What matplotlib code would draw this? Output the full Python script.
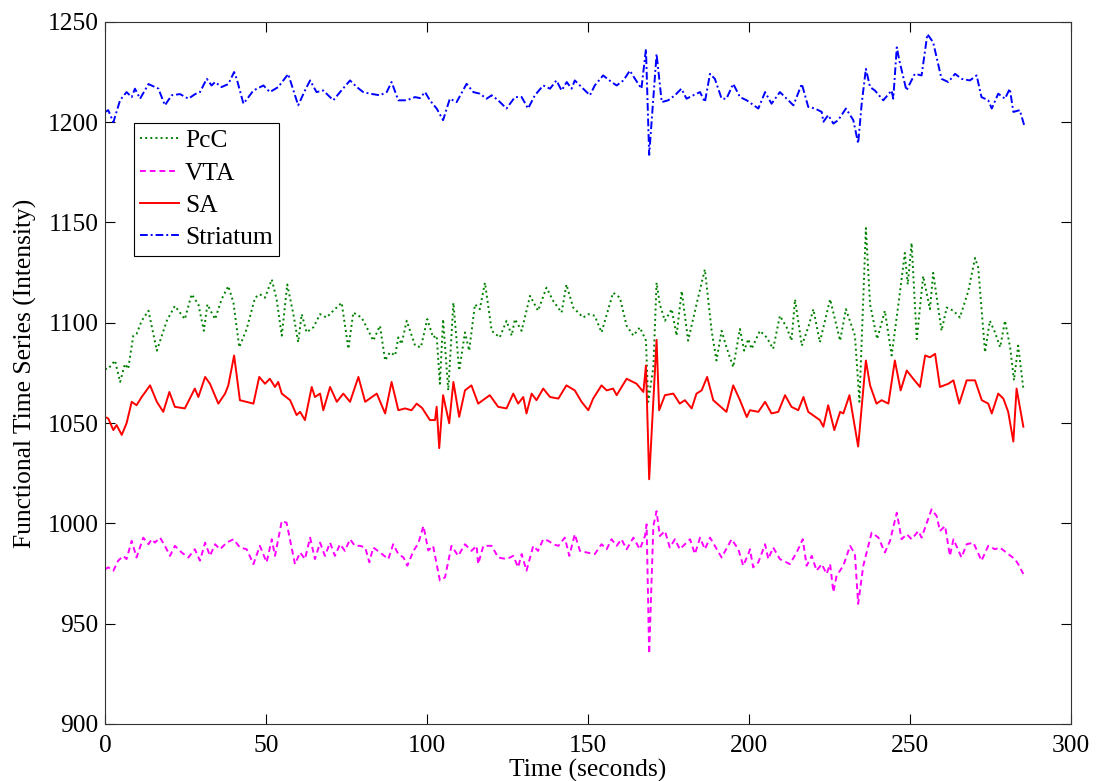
import numpy as np
import matplotlib
matplotlib.use('Agg')
import matplotlib.pyplot as plt

plt.rcParams['font.family'] = ['Liberation Serif', 'DejaVu Serif']
plt.rcParams['mathtext.fontset'] = 'stix'

# 各序列的时间点（秒）与强度值，按图中的峰谷读取
PCC_T = [0, 1, 3.1, 4.7, 6.2, 7.2, 8.8, 9.8, 11.4, 13.5, 16.1, 19.2, 21.7, 24.8, 26.9, 29, 30.7,
         31.8, 33.1, 34.2, 36.2, 38.3, 39.9, 41.7, 44, 46.6, 48.1, 49.7, 51.8, 53.3, 54.9, 56.6,
         58.5, 60, 61.1, 62.6, 64.7, 66.8, 68.8, 70.9, 73.5, 75.6, 77.1, 79.7, 81.3, 83.3, 85.4,
         87, 88.5, 90.1, 91.1, 92.1, 93.7, 96.3, 98.1, 100.1, 101.9, 103, 104, 105, 106.6, 108.2,
         110, 111.8, 113.1, 114.9, 116.4, 118, 120.1, 122.6, 124.7, 126.3, 127.3, 129.4, 132,
         134.5, 137.1, 139.2, 141.8, 143.3, 145.4, 148.5, 150.1, 152.1, 154.2, 157.8, 159.9, 162,
         164.1, 166.1, 168, 168.7, 170.3, 171.3, 172.3, 173.9, 176, 177.5, 179.1, 181.1, 183.7,
         186.3, 188.4, 189.9, 191.5, 193, 195.1, 197.2, 198.5, 199.8, 200.8, 203.4, 205.5, 207.5,
         209.6, 211.7, 213.2, 214.3, 216.4, 218.4, 220, 222, 225.2, 228.3, 230.1, 232.9, 234.3,
         236.3, 237.6, 239.8, 242.2, 244.3, 246.4, 248.4, 249.3, 250.5, 252.1, 254.1, 256.2,
         257.2, 259.8, 261.4, 263.5, 265.5, 268.1, 270.2, 271.2, 273.3, 274.8, 276.4, 278, 279.5,
         281.1, 282.3, 283.6, 285.2]
PCC_V = [1077, 1077, 1081.2, 1070.5, 1079.5, 1077, 1093.6, 1094.4, 1101, 1106, 1086.1, 1101,
         1108.4, 1101.8, 1114.2, 1109.2, 1096, 1109.2, 1105.1, 1101.8, 1111.7, 1118.3, 1110,
         1087.8, 1096.9, 1112.5, 1114.2, 1112.5, 1121.6, 1111.7, 1093.6, 1119.1, 1104.3, 1090.3,
         1104.3, 1095.2, 1097.7, 1104.3, 1102.6, 1106, 1110, 1087, 1105.1, 1102.6, 1097.7, 1091.1,
         1098.5, 1081.2, 1085.3, 1083.7, 1092.7, 1089.4, 1101, 1088.6, 1087.8, 1101.8, 1092.7,
         1093.6, 1069.6, 1101.8, 1066.3, 1110, 1076.2, 1095.2, 1086.1, 1109.2, 1106.8, 1120, 1096,
         1092.7, 1101, 1093.6, 1101.8, 1096, 1113.4, 1106, 1117.5, 1110.9, 1105.1, 1119.1, 1107.6,
         1102.6, 1104.3, 1103.5, 1095.2, 1115, 1112.5, 1098.5, 1093.6, 1097.7, 1091.1, 1060.6,
         1077.9, 1120, 1109.2, 1101, 1106.8, 1093.6, 1115.8, 1091.1, 1109.2, 1126.6, 1096, 1081.2,
         1096, 1087.8, 1077.9, 1096.9, 1086.1, 1091.9, 1087, 1096, 1092.7, 1087, 1103.5, 1097.7,
         1091.1, 1111.7, 1088.6, 1097.7, 1106.8, 1090.3, 1111.7, 1091.1, 1106.8, 1093.6, 1060.6,
         1147.2, 1109.2, 1091.9, 1106, 1083.7, 1109.2, 1134.8, 1119.1, 1139.8, 1091.9, 1123.3,
         1106.8, 1124.9, 1096, 1107.6, 1106, 1102.6, 1115.8, 1132.3, 1127.4, 1085.3, 1101, 1095.2,
         1087.8, 1101, 1087.8, 1071.3, 1088.6, 1067.2]

VTA_T = [0, 1, 2.6, 4.1, 5.7, 6.7, 8.3, 9.8, 11.9, 13.5, 14.5, 15.5, 17.1, 18.6, 20.2, 21.7, 23.8,
         25.9, 27.9, 29.5, 31.1, 32.6, 34.2, 35.7, 37.8, 39.9, 41.9, 44, 46.1, 48.1, 50.2, 51.8,
         52.8, 54.9, 56.4, 59, 60.6, 62.1, 63.7, 65.2, 66.8, 68.3, 69.9, 71.4, 73, 74.5, 76.1,
         77.6, 79.2, 80.8, 82.1, 83.3, 85.4, 88, 89.5, 91.1, 92.7, 93.9, 95.8, 97.3, 98.9, 100.4,
         101.9, 104, 105.6, 107.6, 109.7, 111.8, 113.8, 115.4, 115.9, 117.5, 120.1, 122.1, 124.7,
         126.8, 128.3, 129.4, 130.9, 133, 134.5, 136.1, 137.7, 139.2, 140.8, 142.8, 144.2, 145.9,
         147.5, 149.6, 152.1, 154.2, 155.8, 157.3, 158.9, 160.4, 162, 164.1, 166.1, 167.7, 168.2,
         169, 170.3, 171.3, 172.3, 173.9, 175.4, 177, 178.5, 180.1, 181.7, 183.2, 184.8, 186.3,
         187.9, 189.4, 191.5, 194.6, 196.7, 198.2, 199.8, 200.3, 201.3, 202.9, 205, 206, 207.5,
         209.6, 212.7, 214.8, 216.7, 217.9, 219.5, 221, 222.6, 224.1, 225.2, 226.2, 227.2, 229.3,
         231.4, 232.9, 233.9, 235.5, 238.1, 240.2, 242.2, 243.8, 245.9, 247.4, 249, 250.5, 252.6,
         253.6, 256.7, 258.3, 259.3, 260.9, 262.4, 263.5, 266, 267.6, 269.7, 272.2, 274.3, 276.4,
         277.9, 280.5, 282.6, 283.6, 285.2]
VTA_V = [977, 978.1, 976.4, 981.4, 983.8, 982.2, 991.3, 983, 992.9, 989.6, 992.1, 990.4, 992.9,
         988.8, 983.8, 988.8, 985.5, 983, 987.1, 981.4, 990.4, 983.8, 989.6, 987.1, 990.4, 992.1,
         988, 987.1, 979.7, 988.8, 980.6, 992.1, 983.8, 1001.2, 1000.3, 979.7, 985.5, 982.2, 992.9,
         982.2, 990.4, 983.8, 990.4, 983.8, 989.6, 986.3, 992.1, 988.8, 988.8, 988, 980.6, 988,
         985.5, 982.2, 989.6, 984.7, 983, 978.9, 986.3, 990, 998.7, 986.5, 988.8, 971.5, 973.1,
         988.8, 983.8, 989.6, 986.3, 988.8, 979.7, 988.8, 988.8, 983, 982.2, 983.8, 978.1, 984.7,
         976.4, 988.8, 986.3, 992.1, 991.3, 989.6, 988.8, 992.9, 983.8, 994.6, 986.3, 985.5, 984.7,
         989.6, 987.1, 992.1, 988.8, 992.1, 987.1, 992.9, 987.1, 993.7, 999.5, 935, 998.7, 1006.1,
         993.7, 996.2, 988, 992.1, 987.1, 989.6, 992.1, 984.7, 992.9, 987.1, 992.9, 988.8, 983,
         992.1, 987.1, 978.9, 984.7, 987.1, 978.1, 980.6, 989.6, 982.2, 988, 982.2, 979.7, 985.5,
         992.1, 978.9, 983.8, 976.4, 979.7, 974.8, 979.7, 965.7, 973.9, 978.9, 988.8, 984.7, 959.9,
         978.9, 995.4, 992.9, 985.5, 991.3, 1005.3, 992.1, 994.6, 992.1, 996.2, 992.9, 1007,
         1003.6, 996.2, 998.7, 983.8, 992.1, 983, 989.6, 990.4, 981.4, 988.8, 987.1, 988, 984.7,
         982.2, 979.7, 974.8]

SA_T = [0, 1, 2.6, 3.6, 5.2, 6.7, 8.3, 9.8, 11.4, 14, 16.1, 18.1, 20, 21.7, 24.8, 27.9, 29, 31.1,
        32.6, 35.2, 37.3, 38.3, 40.1, 41.9, 46.1, 47.9, 49.7, 51.2, 52.8, 53.8, 54.9, 57.5, 59.5,
        60.6, 62.1, 64.2, 65.2, 66.8, 67.8, 69.9, 72, 74, 76.1, 78.7, 80.8, 84.4, 87, 89, 91.1,
        93.2, 95.2, 96.8, 98.5, 100.9, 102.5, 103, 103.8, 105, 106.9, 108.2, 110, 111.8, 113.8,
        115.9, 119.5, 122.1, 124.7, 126.8, 128.3, 129.9, 130.9, 132.5, 134, 136.1, 138.2, 140.8,
        143.3, 145.9, 148, 150.1, 151.6, 154.2, 155.8, 157.8, 158.9, 162, 165.1, 167.2, 168, 169,
        171.3, 172.1, 173.9, 176.5, 178.5, 180.1, 182.2, 183.7, 185.3, 187, 188.9, 193, 195.1,
        197.2, 199.3, 200.3, 202.9, 205, 207, 209.1, 211.2, 213.2, 215.3, 216.9, 218.4, 222,
        223.1, 224.6, 226.5, 228.3, 229.3, 231.2, 233.9, 236.3, 237.6, 239.6, 241.2, 243.3,
        245.3, 247.1, 249, 251, 253.1, 254.7, 256.2, 257.8, 259.3, 261.9, 263.5, 265.3, 267.6,
        270.2, 272.3, 274.3, 275.4, 277.4, 279, 280.5, 282.1, 283.1, 285.2]
SA_V = [1053, 1052.3, 1046.5, 1049, 1044.1, 1049.9, 1060.6, 1058.9, 1063, 1068.8, 1060.6, 1055.6,
        1065.5, 1058.1, 1057.3, 1067.2, 1063, 1073, 1069.6, 1059.7, 1064.7, 1068.8, 1083.7, 1061.4,
        1059.7, 1073, 1069.6, 1072.1, 1068, 1070.5, 1064.7, 1061.4, 1054, 1055.6, 1051.5, 1068,
        1063, 1064.7, 1056.4, 1068, 1060.6, 1064.7, 1060.6, 1073, 1060.6, 1064.7, 1054.8, 1070.5,
        1056.4, 1057.3, 1056.4, 1059.7, 1057.5, 1051.5, 1051.5, 1058.1, 1037.5, 1063.9, 1049.9,
        1070.5, 1053.1, 1066.3, 1068.8, 1059.7, 1063.9, 1058.1, 1057.3, 1064.7, 1059.7, 1063,
        1054.8, 1064.7, 1061.4, 1067.2, 1063, 1062.2, 1068.8, 1066.3, 1060.6, 1056.4, 1062.2,
        1068.8, 1066.3, 1067.2, 1063.9, 1072.1, 1069.6, 1065.5, 1078.7, 1022, 1091.5, 1056.4,
        1063.9, 1064.7, 1059.7, 1061.4, 1057.3, 1064.7, 1066.3, 1073, 1061.4, 1055.6, 1068.8,
        1061.4, 1053, 1056.4, 1055.6, 1060.6, 1054.8, 1055.6, 1063.9, 1058.1, 1056.4, 1063,
        1055.6, 1051.5, 1048.2, 1058.9, 1046.5, 1055.6, 1054.8, 1063.9, 1038.3, 1081.2, 1068.8,
        1059.7, 1061.4, 1059.7, 1081.2, 1066.3, 1076.2, 1072.1, 1068, 1083.7, 1082.8, 1084.5,
        1068, 1069.6, 1071.3, 1059.7, 1071.3, 1071.3, 1061.4, 1059.7, 1054.8, 1064.7, 1062.2,
        1055.6, 1040.8, 1067.2, 1048.2]

STRIATUM_T = [0, 1, 2.6, 4.7, 6.7, 8.3, 9.3, 10.9, 13.5, 16.6, 18.6, 20.7, 23.3, 25.9, 28, 29.5,
              31.6, 33.1, 34.2, 36.2, 38.3, 40.1, 40.9, 43, 46.1, 49.2, 51.2, 53.8, 56.9, 60, 62.1,
              63.7, 65.7, 67.8, 70.9, 73, 76.1, 78.2, 80.2, 82.3, 85.4, 87.5, 89, 91.1, 93.7, 96.3,
              97.8, 99.4, 100.9, 103, 105, 107.1, 109.2, 112.3, 114.4, 116.4, 118.5, 120.1, 122.1,
              124.7, 127.3, 129.4, 131.4, 133.5, 136.1, 138.2, 140.2, 141.8, 143.4, 144.9, 145.9,
              148, 150.6, 152.1, 154.7, 157.3, 158.9, 161, 163, 164.6, 166.6, 168, 169, 171.3,
              172.9, 174.9, 177, 179, 180.6, 182.7, 184.8, 186.3, 187.9, 189.4, 191.5, 193, 195.1,
              197.2, 199.3, 202.9, 205, 207, 209.6, 211.7, 213.8, 216.4, 218.4, 220.5, 222.6,
              223.1, 224.6, 226.2, 227.7, 230.1, 232.4, 233.9, 235, 236.3, 237.6, 239.1, 241.7,
              244.3, 244.8, 245.9, 246.7, 248.9, 251.5, 253.6, 255.4, 257.2, 259.8, 261.9, 264,
              266, 268.6, 270.7, 272.2, 274.3, 275.4, 277.4, 279.5, 281, 282.1, 284.1, 285.6]
STRIATUM_V = [1205, 1206, 1200, 1211, 1215, 1212.5, 1216.7, 1211.7, 1219, 1216.7, 1208.4, 1213.4,
              1214, 1211.7, 1214, 1215, 1221.6, 1218.3, 1220, 1217.5, 1219, 1225, 1221.6, 1209.2,
              1215.8, 1218.3, 1215, 1217.5, 1224, 1208.4, 1215.8, 1220.8, 1215, 1215.8, 1210.9,
              1215, 1220.8, 1217.5, 1215, 1214.2, 1213.4, 1215, 1220, 1210.9, 1210.9, 1212.5, 1212,
              1215, 1210.9, 1206.8, 1201, 1211.7, 1210, 1219.1, 1215, 1214.2, 1211.7, 1213.4,
              1210.9, 1206.8, 1212.5, 1212.5, 1206.8, 1213.4, 1218.3, 1216.7, 1220.8, 1215.8, 1220,
              1216.7, 1220.8, 1217.5, 1213.4, 1218.3, 1223.3, 1220, 1218.3, 1220.8, 1225.7, 1221.6,
              1216.7, 1236.5, 1183.7, 1234, 1210, 1210.9, 1213.4, 1216.7, 1211.7, 1213.4, 1215,
              1210, 1224.1, 1221.6, 1211.7, 1211.7, 1219.1, 1212.5, 1210.9, 1206.8, 1215, 1209.2,
              1215, 1211.7, 1208.4, 1219.1, 1207.6, 1206.8, 1205.1, 1200.2, 1203.5, 1199.3, 1201,
              1206.8, 1201, 1189.4, 1209.2, 1226.6, 1217.5, 1215.8, 1210.9, 1215.8, 1211.7, 1237.3,
              1230.7, 1215.8, 1224.1, 1223.3, 1243.9, 1239.8, 1221.6, 1220, 1224.1, 1221.6, 1220.8,
              1223.3, 1212.5, 1210.9, 1206.8, 1214.2, 1211.7, 1216.7, 1205.1, 1206, 1197.7]

X_TICKS = [0, 50, 100, 150, 200, 250, 300]
Y_TICKS = [900, 950, 1000, 1050, 1100, 1150, 1200, 1250]

FONT_SIZE = 18.4

fig = plt.figure(figsize=(11.04, 7.81), dpi=100)
ax = fig.add_axes([0.0951, 0.073, 0.875, 0.899])

lw = 1.4
ax.plot(PCC_T, PCC_V, ':', color=(0, 0.5, 0), linewidth=lw, label='PcC')
ax.plot(VTA_T, VTA_V, '--', color=(1, 0, 1), linewidth=lw, dashes=(3, 2), label='VTA')
ax.plot(SA_T, SA_V, '-', color=(1, 0, 0), linewidth=lw, label='SA')
ax.plot(STRIATUM_T, STRIATUM_V, '-.', color=(0, 0, 1), linewidth=lw,
        dashes=(4, 1.5, 1, 1.5), label='Striatum')

ax.set_xlim(0, 300)
ax.set_ylim(900, 1250)
ax.set_xticks(X_TICKS)
ax.set_yticks(Y_TICKS)
ax.tick_params(direction='in', length=7, width=0.8, top=True, right=True,
               labelsize=FONT_SIZE)
ax.tick_params(axis='y', pad=4.5)
ax.tick_params(axis='x', pad=8)
for s in ax.spines.values():
    s.set_linewidth(0.8)
    s.set_color('#333333')

ax.set_xlabel('Time (seconds)', fontsize=FONT_SIZE, labelpad=1.5)
ax.set_ylabel('Functional Time Series (Intensity)', fontsize=FONT_SIZE, labelpad=8)

leg = ax.legend(loc='upper left', bbox_to_anchor=(0.030, 0.856), borderaxespad=0,
                fontsize=FONT_SIZE, handlelength=1.5, handletextpad=0.25,
                labelspacing=0.37, borderpad=0.25, fancybox=False, framealpha=1)
leg.get_frame().set_edgecolor('black')
leg.get_frame().set_linewidth(0.8)

fig.savefig('out.png', dpi=100)
